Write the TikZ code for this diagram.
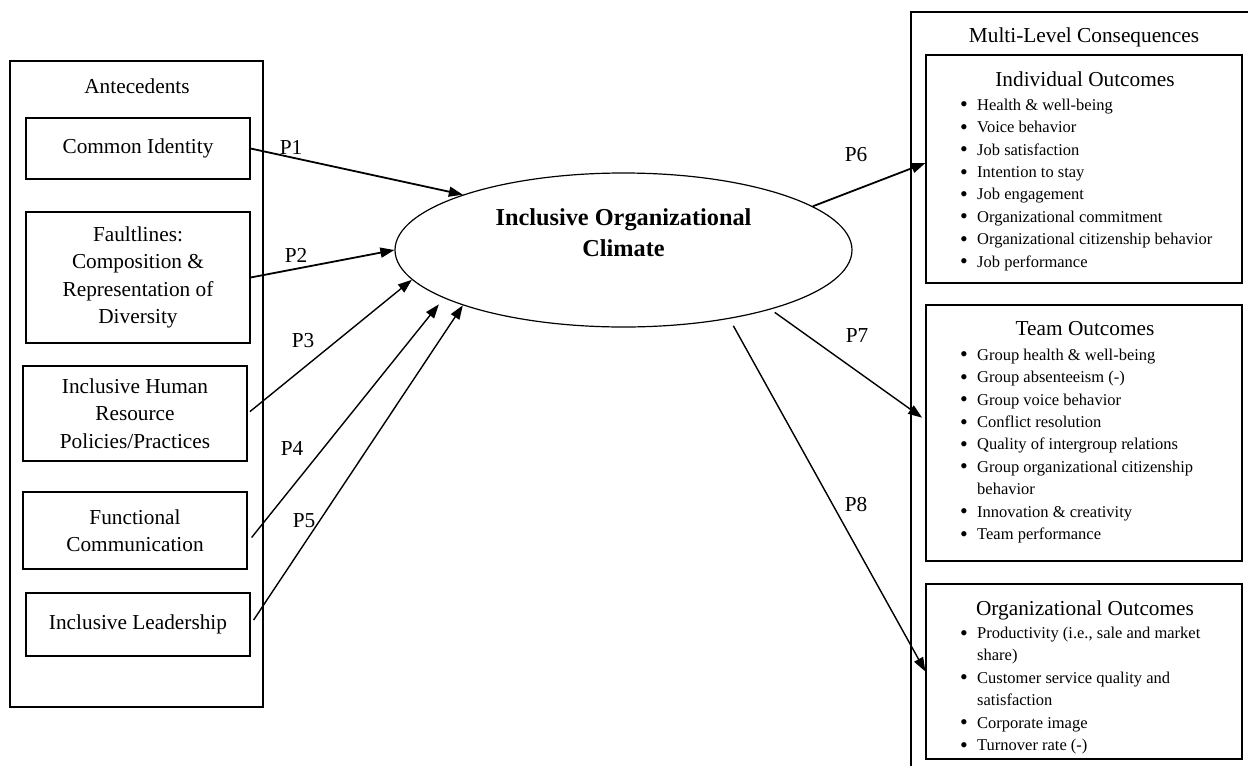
\documentclass[tikz,border=0pt]{standalone}
\usepackage{fontspec}
\setmainfont{Liberation Serif}
\usetikzlibrary{shapes.geometric,arrows.meta}
\newcommand{\bl}{\makebox[17pt][l]{\raisebox{-1.6pt}{\fontsize{22}{0}\selectfont\textbullet}}}
\newcommand{\cn}{\hspace*{17pt}}
\newcommand{\fst}{\rule{0pt}{13pt}}
\begin{document}
\begin{tikzpicture}[x=1pt,y=-1pt,
  frame/.style={draw,line width=1.4pt},
  box/.style={draw,line width=1.2pt,minimum width=224pt,inner sep=0pt,align=center,font=\fontsize{21.3}{27.5}\selectfont},
  obox/.style={draw,line width=1.2pt,minimum width=316pt,inner sep=0pt},
  ttl/.style={anchor=base,inner sep=0pt,font=\fontsize{21.3}{27.5}\selectfont},
  lst/.style={anchor=north west,inner sep=0pt,align=left,font=\fontsize{16.5}{22.4}\selectfont},
  plab/.style={inner sep=0pt,font=\fontsize{21.3}{27.5}\selectfont},
  arr/.style={line width=1.8pt,-{Triangle[length=14pt,width=10pt]}},
  arrt/.style={line width=1.4pt,-{Triangle[length=14pt,width=10pt]}}]
\useasboundingbox (0,0) rectangle (1248,766);

% Antecedents
\node[frame,minimum width=253pt,minimum height=646pt,inner sep=0pt] (ante) at (136.5,384) {};
\node[ttl] (antet) at (137,93.3) {Antecedents};
\node[box,minimum height=61pt] (ci) at (138,148.5) {Common Identity};
\node[box,minimum height=131pt] (fl) at (138,277.5) {Faultlines:\\Composition \&\\Representation of\\Diversity};
\node[box,minimum height=95pt] (hr) at (135,413.5) {Inclusive Human\\Resource\\Policies/Practices};
\node[box,minimum height=77pt] (fc) at (135,530.5) {Functional\\Communication};
\node[box,minimum height=63pt] (il) at (138,624.5) {Inclusive Leadership};

% Climate
\node[ellipse,draw,line width=1.2pt,minimum width=457pt,minimum height=154pt,inner sep=0pt] (clim) at (623.5,250) {};
\node[inner sep=0pt,align=center,font=\bfseries\fontsize{24.3}{31}\selectfont] (climt) at (623.5,233) {Inclusive Organizational\\Climate};

% Consequences
\draw[frame] (1248,12) -- (911,12) -- (911,766);
\node[ttl] (mlc) at (1084,42.7) {Multi-Level Consequences};

\node[obox,minimum height=228pt] (ind) at (1084,169) {};
\node[ttl] (indt) at (1085,86) {Individual Outcomes};
\node[lst] (indl) at (960,97) {\fst\bl Health \& well-being\\
\bl Voice behavior\\
\bl Job satisfaction\\
\bl Intention to stay\\
\bl Job engagement\\
\bl Organizational commitment\\
\bl Organizational citizenship behavior\\
\bl Job performance};

\node[obox,minimum height=256pt] (team) at (1084,433) {};
\node[ttl] (teamt) at (1085,335) {Team Outcomes};
\node[lst] (teaml) at (960,347) {\fst\bl Group health \& well-being\\
\bl Group absenteeism (-)\\
\bl Group voice behavior\\
\bl Conflict resolution\\
\bl Quality of intergroup relations\\
\bl Group organizational citizenship\\
\cn behavior\\
\bl Innovation \& creativity\\
\bl Team performance};

\node[obox,minimum height=175pt] (org) at (1084,671.5) {};
\node[ttl] (orgt) at (1085,615) {Organizational Outcomes};
\node[lst] (orgl) at (960,625.3) {\fst\bl Productivity (i.e., sale and market\\
\cn share)\\
\bl Customer service quality and\\
\cn satisfaction\\
\bl Corporate image\\
\bl Turnover rate (-)};

% Connectors
\draw[arr] (ci.east) -- (clim.161.7);
\draw[arr] (fl.east) -- (clim.180);
\draw[arrt,shorten <=3pt] (hr.east) -- (clim.188.6);
\draw[arrt,shorten >=8pt] ([xshift=4pt,yshift=-7pt]fc.east) -- (clim.195.5);
\draw[arrt] ([xshift=3pt,yshift=4.5pt]il.east) -- (clim.199.8);
\draw[arr] (clim.13.4) -- ([yshift=6pt]ind.west);
\draw[arrt,shorten <=5pt,shorten >=4pt] (clim.338.2) -- ([yshift=13pt]team.west);
\draw[arrt,shorten <=8pt] (clim.327) -- (org.west);

% Labels
\node[plab] (p1) at (291,147) {P1};
\node[plab] (p2) at (296,255) {P2};
\node[plab] (p3) at (303,341) {P3};
\node[plab] (p4) at (292,448) {P4};
\node[plab] (p5) at (304,521) {P5};
\node[plab] (p6) at (856,155) {P6};
\node[plab] (p7) at (857,336) {P7};
\node[plab] (p8) at (856,505) {P8};
\end{tikzpicture}
\end{document}
